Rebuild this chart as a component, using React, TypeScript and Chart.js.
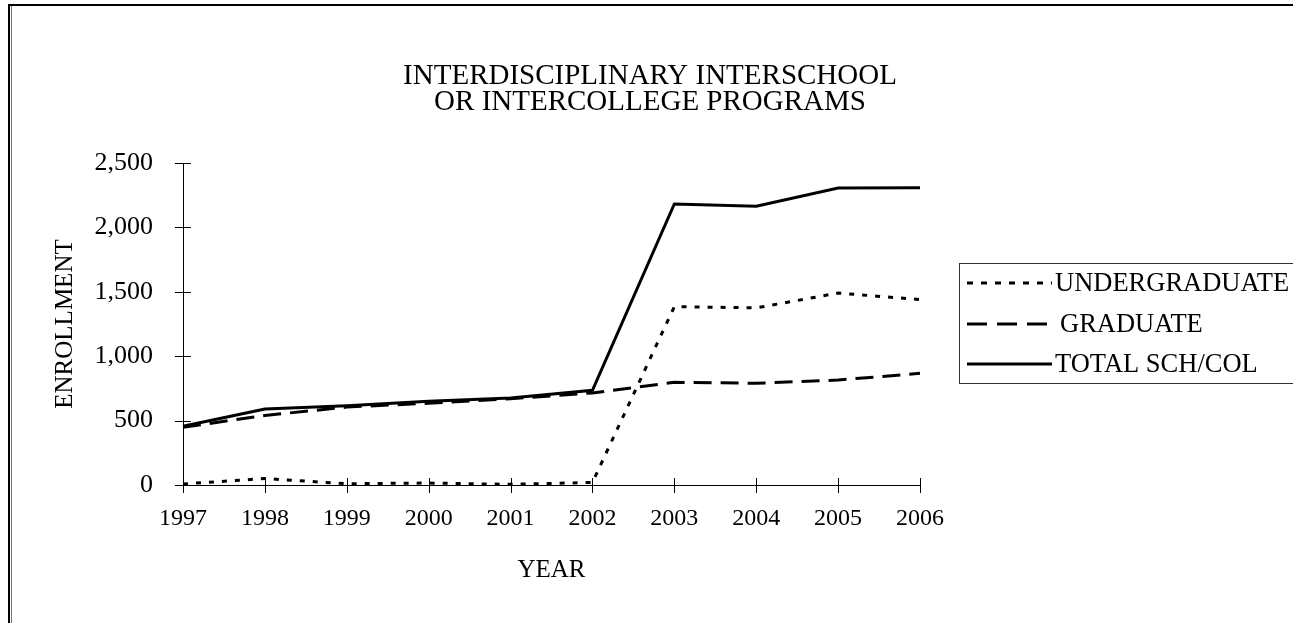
import React, { useEffect, useRef } from 'react';
import { Chart, registerables } from 'chart.js';

Chart.register(...registerables);

const years = ['1997', '1998', '1999', '2000', '2001', '2002', '2003', '2004', '2005', '2006'];
const undergraduate = [8, 50, 10, 15, 5, 20, 1385, 1375, 1490, 1440];
const graduate = [448, 540, 605, 635, 670, 715, 797, 790, 815, 867];
const total = [456, 590, 615, 650, 675, 735, 2182, 2165, 2305, 2307];
const seriesNames = ['UNDERGRADUATE', 'GRADUATE', 'TOTAL SCH/COL'];
const titleLines = ['INTERDISCIPLINARY INTERSCHOOL', 'OR INTERCOLLEGE PROGRAMS'];
const xTitle = 'YEAR';
const yTitle = 'ENROLLMENT';
const yMin = 0;
const yMax = 2500;
const yStep = 500;

const FONT = '"Liberation Serif", "Times New Roman", serif';
const W = 1293;
const H = 623;
const PLOT_LEFT = 183;
const PLOT_RIGHT = 920;
const PLOT_TOP = 163;
const PLOT_BOTTOM = 485;

const decorPlugin = {
  id: 'decor',
  afterDraw(chart: any) {
    const ctx = chart.ctx;
    const { left, bottom } = chart.chartArea;
    const xs = chart.scales.x;
    const ys = chart.scales.y;
    ctx.save();
    // frame
    ctx.fillStyle = '#000';
    ctx.fillRect(8, 4, W - 8, 2);
    ctx.fillRect(8, 4, 2, H - 4);
    ctx.fillStyle = '#777';
    ctx.fillRect(11, 6, 1, H - 6);

    // title
    ctx.fillStyle = '#000';
    ctx.font = '29px ' + FONT;
    ctx.textAlign = 'center';
    ctx.textBaseline = 'middle';
    ctx.fillText(titleLines[0], 650, 76);
    ctx.fillText(titleLines[1], 650, 102);

    // cross ticks
    ctx.strokeStyle = '#000';
    ctx.lineWidth = 1;
    ctx.beginPath();
    ys.ticks.forEach((t: any) => {
      const y = Math.round(ys.getPixelForValue(t.value)) + 0.5;
      ctx.moveTo(left - 8, y);
      ctx.lineTo(left + 8, y);
    });
    years.forEach((_, i) => {
      const x = Math.round(xs.getPixelForValue(i)) + 0.5;
      ctx.moveTo(x, bottom - 7);
      ctx.lineTo(x, bottom + 8);
    });
    ctx.stroke();

    // legend
    const bx = 959.5, by = 263.5, bh = 120;
    ctx.strokeStyle = '#333';
    ctx.lineWidth = 1;
    ctx.strokeRect(bx, by, 400, bh);
    const rows = [283, 324, 364];
    const legendDash = [[6, 8], [20, 10], []];
    ctx.font = '26.5px ' + FONT;
    ctx.textBaseline = 'middle';
    ctx.textAlign = 'left';
    chart.data.datasets.forEach((ds: any, i: number) => {
      ctx.strokeStyle = '#000';
      ctx.lineWidth = 3;
      ctx.setLineDash(legendDash[i]);
      ctx.beginPath();
      ctx.moveTo(967, rows[i]);
      ctx.lineTo(1052, rows[i]);
      ctx.stroke();
      ctx.setLineDash([]);
      ctx.fillStyle = '#000';
      ctx.fillText(ds.label, i === 1 ? 1060 : 1055, rows[i] + 1);
    });
    ctx.restore();
  },
};

export default function App() {
  const ref = useRef<HTMLCanvasElement | null>(null);
  useEffect(() => {
    if (!ref.current) return;
    const chart = new Chart(ref.current, {
      type: 'line',
      data: {
        labels: years,
        datasets: [
          {
            label: seriesNames[0],
            data: undergraduate,
            borderColor: '#000',
            borderWidth: 3,
            borderDash: [5, 8],
            pointRadius: 0,
            fill: false,
            tension: 0,
          },
          {
            label: seriesNames[1],
            data: graduate,
            borderColor: '#000',
            borderWidth: 3,
            borderDash: [18, 9],
            pointRadius: 0,
            fill: false,
            tension: 0,
          },
          {
            label: seriesNames[2],
            data: total,
            borderColor: '#000',
            borderWidth: 3,
            pointRadius: 0,
            fill: false,
            tension: 0,
          },
        ],
      },
      options: {
        responsive: false,
        animation: false,
        devicePixelRatio: 1,
        layout: { padding: { top: PLOT_TOP, left: 0, right: W - PLOT_RIGHT, bottom: 0 } },
        plugins: {
          legend: { display: false },
          tooltip: { enabled: false },
          title: { display: false },
        },
        scales: {
          x: {
            type: 'category',
            offset: false,
            grid: { display: false, drawTicks: false },
            border: { display: true, color: '#000', width: 1 },
            afterFit: (scale: any) => {
              scale.height = H - PLOT_BOTTOM;
            },
            ticks: {
              color: '#000',
              padding: 19,
              maxRotation: 0,
              autoSkip: false,
              font: { family: FONT, size: 24, lineHeight: 1.2 },
            },
            title: {
              display: true,
              text: xTitle,
              color: '#000',
              font: { family: FONT, size: 25, lineHeight: 1.2 },
              padding: { top: 0, bottom: 38 },
            },
          },
          y: {
            min: yMin,
            max: yMax,
            grid: { display: false, drawTicks: false },
            border: { display: true, color: '#000', width: 1 },
            afterFit: (scale: any) => {
              scale.width = PLOT_LEFT;
            },
            ticks: {
              stepSize: yStep,
              color: '#000',
              padding: 30,
              font: { family: FONT, size: 26, lineHeight: 1.2 },
              callback: (v: any) => Number(v).toLocaleString('en-US'),
            },
            title: {
              display: true,
              text: yTitle,
              color: '#000',
              font: { family: FONT, size: 25, lineHeight: 1.2 },
              padding: { top: 50 },
            },
          },
        },
      },
      plugins: [decorPlugin],
    });
    return () => chart.destroy();
  }, []);
  return (
    <div style={{ position: 'fixed', left: 0, top: 0, width: W, height: H, background: '#fff' }}>
      <canvas ref={ref} width={W} height={H} style={{ width: W, height: H, display: 'block' }} />
    </div>
  );
}
